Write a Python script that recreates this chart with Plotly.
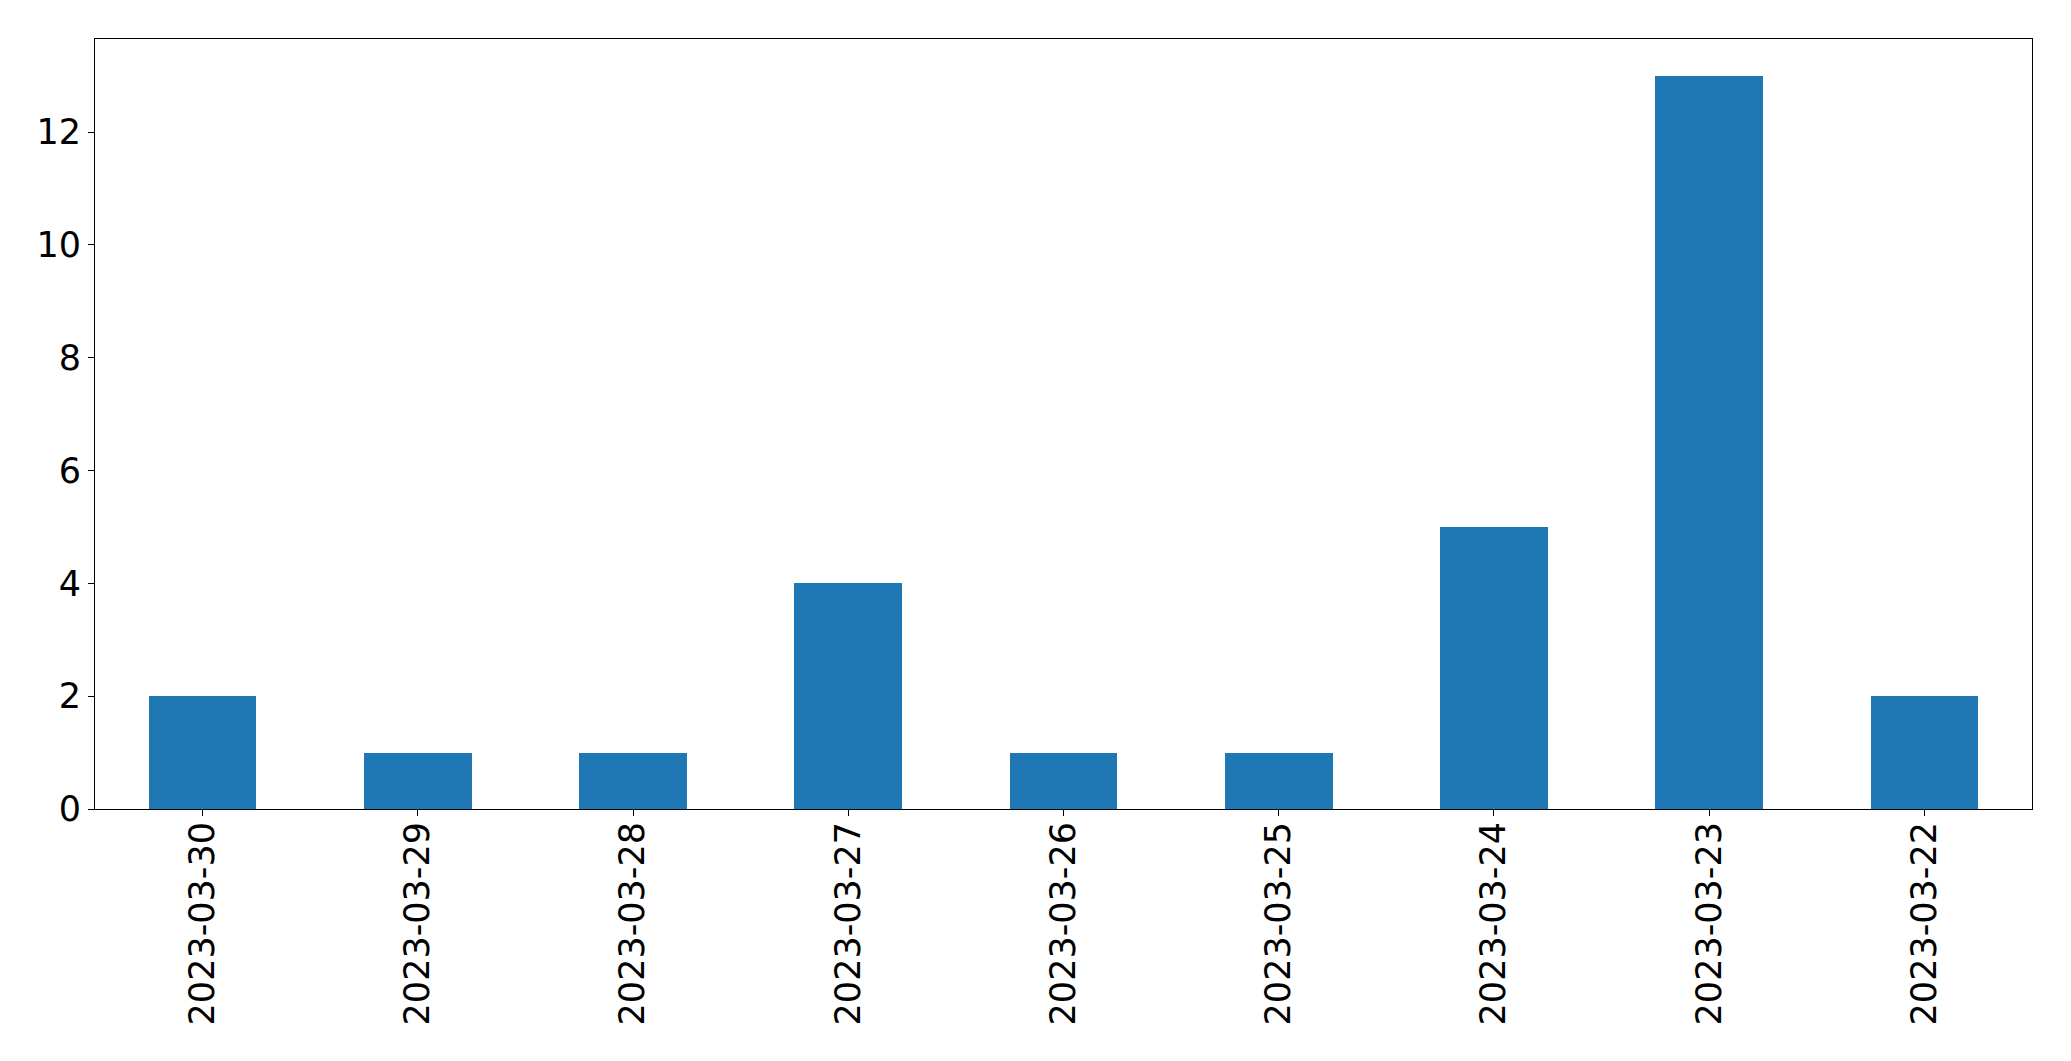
import plotly.graph_objects as go

dates = ["2023-03-30", "2023-03-29", "2023-03-28", "2023-03-27", "2023-03-26",
         "2023-03-25", "2023-03-24", "2023-03-23", "2023-03-22"]
counts = [2, 1, 1, 4, 1, 1, 5, 13, 2]

# page body has an 8px default margin, so the figure is sized to fit the window
W, H = 2063, 1053
fig = go.Figure(go.Bar(x=dates, y=counts, width=0.5, marker=dict(color="#1f77b4", line=dict(width=0))))

axis_common = dict(showline=True, linecolor="black", linewidth=1, mirror=True,
                   showgrid=False, zeroline=False, ticks="outside", ticklen=6,
                   tickcolor="black", tickwidth=1, automargin=False,
                   tickfont=dict(family="DejaVu Sans", size=35, color="black"))

fig.update_layout(
    width=W, height=H,
    margin=dict(l=87, r=39, t=31, b=252, pad=0),
    plot_bgcolor="white", paper_bgcolor="white",
    showlegend=False,
    bargap=0,
    xaxis=dict(type="category", range=[-0.5, 8.5], tickangle=-90,
               ticklabelstandoff=-8, **axis_common),
    yaxis=dict(range=[0, 13.65], tick0=0, dtick=2, **axis_common),
)
fig.write_html("out.html")
